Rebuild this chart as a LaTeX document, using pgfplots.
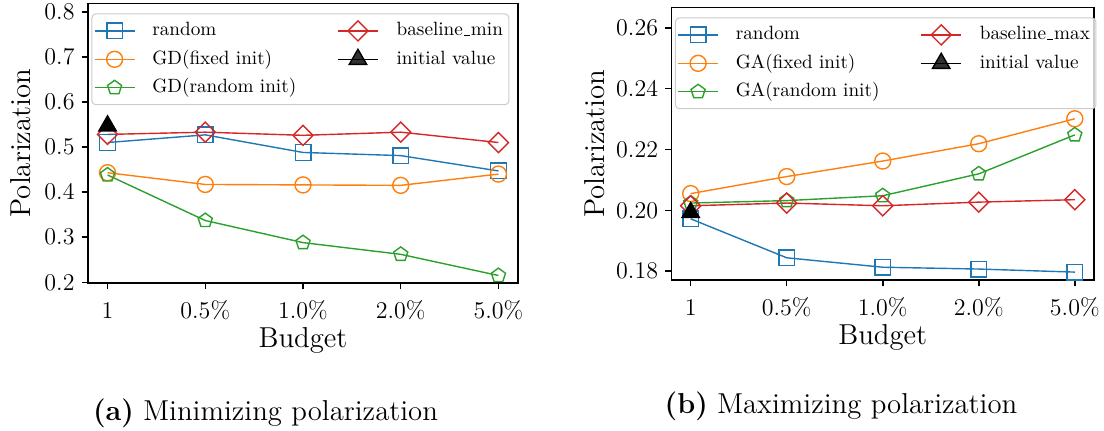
\documentclass[border=0pt]{standalone}
\usepackage{fontspec}
\usepackage{pgfplots}
\pgfplotsset{compat=1.18}
\definecolor{tblue}{HTML}{1F77B4}
\definecolor{torange}{HTML}{FF7F0E}
\definecolor{tgreen}{HTML}{2CA02C}
\definecolor{tred}{HTML}{D62728}
\newcommand\us{\leavevmode\kern.06em\vbox{\hrule width.3em height 0.04em}\kern.06em}
\pgfplotsset{
  mystyle/.style={
    scale only axis,
    xmin=-0.2, xmax=4.2,
    xtick={0,1,2,3,4},
    xticklabels={1,0.5\%,1.0\%,2.0\%,5.0\%},
    tick pos=left,
    tick align=outside,
    major tick length=3.2pt,
    axis line style={line width=0.75pt},
    every tick/.style={black, line width=0.75pt},
    /pgf/number format/assume math mode=true,
    tick label style={font=\fontsize{12}{14}\selectfont},
    xticklabel style={text height=8.5pt, text depth=0.7pt, yshift=-2.5pt},
    xlabel={Budget},
    ylabel={Polarization},
    every axis x label/.style={at={(axis description cs:0.5,0)}, anchor=base, yshift=-32pt, font=\fontsize{14.4}{17}\selectfont},
    legend columns=2,
    legend cell align=left,
    legend image code/.code={\draw[mark repeat=2,mark phase=2,##1] plot coordinates {(0pt,0pt) (10pt,0pt) (20pt,0pt)};},
    legend style={
      at={(0,1)}, anchor=north west, xshift=1.7pt, yshift=-5pt,
      font=\fontsize{9.6}{11.5}\selectfont,
      draw=black!20, line width=0.5pt, rounded corners=2pt, fill=white, fill opacity=0.8, text opacity=1,
      inner xsep=1pt, inner ysep=2pt,
      row sep=1.2pt,
      nodes={inner ysep=1.5pt, text height=7.5pt, text depth=2.5pt},
      /tikz/column 1/.style={column sep=6.5pt},
      /tikz/column 2/.style={column sep=18.5pt},
      /tikz/column 3/.style={column sep=7pt},
    },
  },
  sb/.style={tblue, line width=0.7pt, mark=square, mark size=3.9pt, mark options={solid}},
  so/.style={torange, line width=0.7pt, mark=o, mark size=4pt, mark options={solid}},
  sg/.style={tgreen, line width=0.7pt, mark=pentagon, mark size=3.7pt, mark options={solid}},
  sr/.style={tred, line width=0.7pt, mark=square, mark size=3.55pt, mark options={solid, rotate=45}},
  sk/.style={black, line width=0.7pt, mark=triangle*, mark size=5pt, mark options={solid}},
}
\begin{document}
\begin{tikzpicture}
\path[use as bounding box] (0,0) rectangle (552pt,215pt);
% (a)
\begin{axis}[mystyle,
  at={(44pt,73.5pt)}, anchor=south west,
  width=215pt, height=139.8pt,
  ymin=0.1984, ymax=0.8186,
  ytick={0.2,0.3,0.4,0.5,0.6,0.7,0.8},
  yticklabel style={/pgf/number format/.cd, fixed, fixed zerofill, precision=1},
  every axis y label/.style={at={(axis description cs:-0.156,0.5)}, rotate=90, anchor=center, font=\fontsize{14.4}{17}\selectfont},
]
\addplot[sb, forget plot] coordinates {(0,0.510) (1,0.527) (2,0.488) (3,0.481) (4,0.447)};
\addplot[so, forget plot] coordinates {(0,0.443) (1,0.417) (2,0.416) (3,0.415) (4,0.440)};
\addplot[sg, forget plot] coordinates {(0,0.438) (1,0.337) (2,0.288) (3,0.262) (4,0.215)};
\addplot[sr, forget plot] coordinates {(0,0.528) (1,0.533) (2,0.526) (3,0.533) (4,0.510)};
\addplot[sk, forget plot] coordinates {(0,0.547)};
\addlegendimage{sb}\addlegendentry{random}
\addlegendimage{sr}\addlegendentry{baseline\us min}
\addlegendimage{so}\addlegendentry{GD(fixed init)}
\addlegendimage{sk}\addlegendentry{initial value}
\addlegendimage{sg}\addlegendentry{GD(random init)}
\end{axis}
% (b)
\begin{axis}[mystyle,
  at={(335.75pt,75pt)}, anchor=south west,
  width=211.25pt, height=136.3pt,
  ymin=0.1771, ymax=0.2667,
  ytick={0.18,0.20,0.22,0.24,0.26},
  yticklabel style={/pgf/number format/.cd, fixed, fixed zerofill, precision=2},
  every axis y label/.style={at={(axis description cs:-0.182,0.5)}, rotate=90, anchor=center, font=\fontsize{14.4}{17}\selectfont},
]
\addplot[sb, forget plot] coordinates {(0,0.1972) (1,0.1844) (2,0.1813) (3,0.1807) (4,0.1797)};
\addplot[so, forget plot] coordinates {(0,0.2055) (1,0.2111) (2,0.2162) (3,0.2219) (4,0.2301)};
\addplot[sg, forget plot] coordinates {(0,0.2024) (1,0.2032) (2,0.2048) (3,0.2120) (4,0.2248)};
\addplot[sr, forget plot] coordinates {(0,0.2015) (1,0.2024) (2,0.2015) (3,0.2027) (4,0.2035)};
\addplot[sk, forget plot] coordinates {(0,0.1993)};
\addlegendimage{sb}\addlegendentry{random}
\addlegendimage{sr}\addlegendentry{baseline\us max}
\addlegendimage{so}\addlegendentry{GA(fixed init)}
\addlegendimage{sk}\addlegendentry{initial value}
\addlegendimage{sg}\addlegendentry{GA(random init)}
\end{axis}
\node[anchor=base, font=\fontsize{14.4}{17}\selectfont] at (132.75pt,5pt) {\textbf{(a)} Minimizing polarization};
\node[anchor=base, font=\fontsize{14.4}{17}\selectfont] at (420.5pt,8.5pt) {\textbf{(b)} Maximizing polarization};
\end{tikzpicture}
\end{document}
